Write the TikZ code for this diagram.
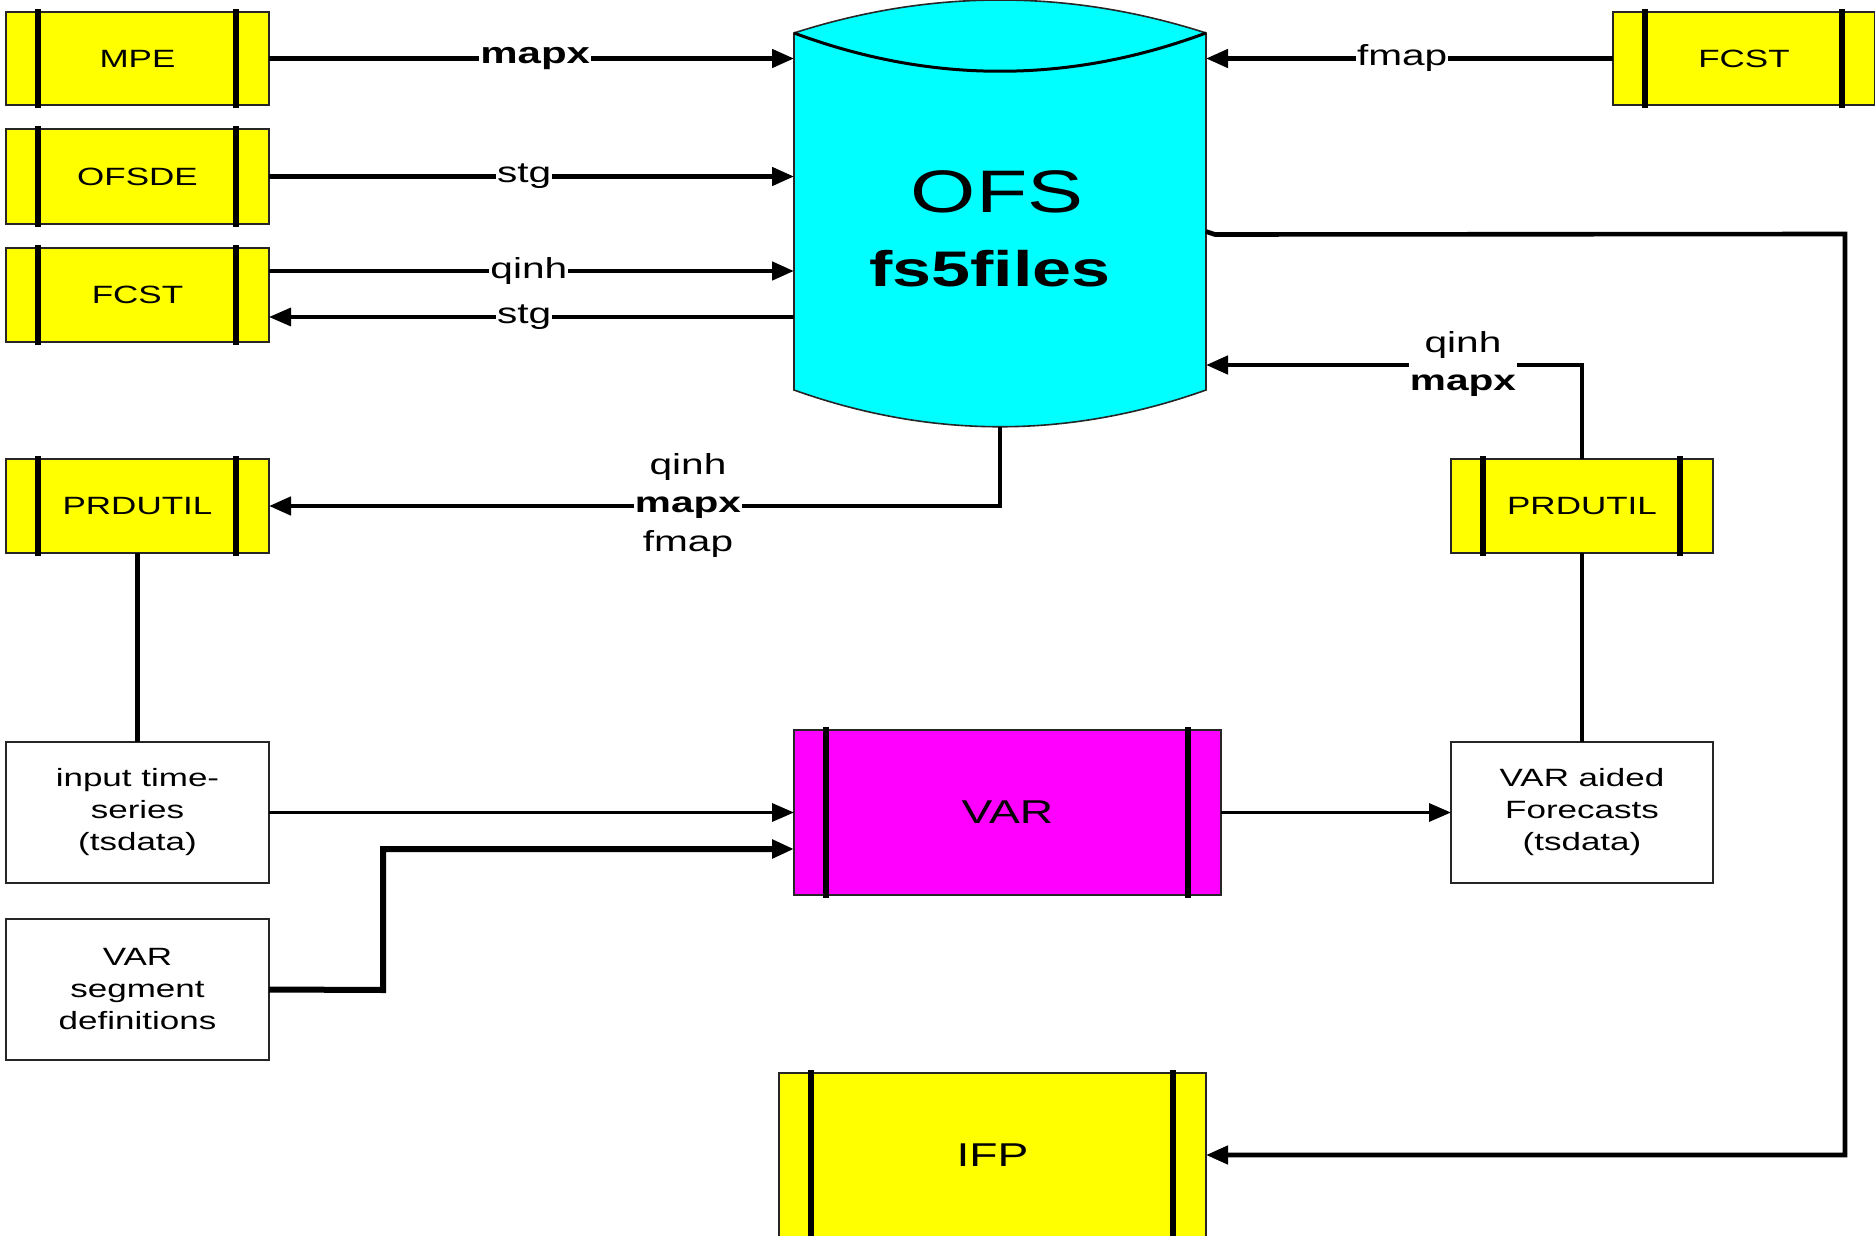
\documentclass[tikz,border=0pt]{standalone}
\usepackage{fontspec}
\setmainfont{Liberation Sans}[FakeStretch=1.4]
\usetikzlibrary{arrows.meta,calc}
\definecolor{procyel}{RGB}{255,255,0}
\definecolor{cylcyan}{RGB}{0,255,255}
\definecolor{varmag}{RGB}{255,0,255}
\tikzset{
  procbox/.style={draw=black!85, line width=1.5pt, fill=procyel, inner sep=0pt, outer sep=0pt, font=\fontsize{25}{32}\selectfont},
  databox/.style={draw=black!85, line width=1.8pt, fill=white, inner sep=0pt, outer sep=0pt, align=center, font=\fontsize{25}{32}\selectfont},
  barline/.style={line width=5.5pt},
  conn/.style={line width=4.6pt},
  thinconn/.style={line width=3.4pt},
  tip/.style={-{Triangle[length=22pt,width=18pt]}},
  lbl/.style={fill=white, inner sep=1pt, font=\fontsize{29}{37}\selectfont},
  blbl/.style={fill=white, inner sep=1pt, font=\fontsize{30}{37}\selectfont\bfseries},
}
\newcommand{\procbars}[1]{%
  \draw[barline] ([xshift=32pt,yshift=3pt]#1.north west) -- ([xshift=32pt,yshift=-3pt]#1.south west);
  \draw[barline] ([xshift=-33pt,yshift=3pt]#1.north east) -- ([xshift=-33pt,yshift=-3pt]#1.south east);}
\begin{document}
\begin{tikzpicture}[x=1pt,y=-1pt]
\useasboundingbox (0,0) rectangle (1875,1236);
\fill[white] (0,0) rectangle (1875,1236);

% cylinder
\fill[cylcyan] (794,33) .. controls (931,-11) and (1069,-11) .. (1206,33) -- (1206,390) .. controls (1069,439) and (931,439) .. (794,390) -- cycle;
\draw[line width=1.6pt, black!85] (794,33) .. controls (931,-11) and (1069,-11) .. (1206,33) -- (1206,390) .. controls (1069,439) and (931,439) .. (794,390) -- cycle;
\draw[line width=3pt] (794,33) .. controls (931,84) and (1069,84) .. (1206,33);
\node[minimum width=412pt, minimum height=357pt, inner sep=0pt, outer sep=0pt] (ofs) at (1000,211.5) {};
\node[anchor=base, inner sep=0pt, font=\fontsize{60}{60}\selectfont] (ofsA) at (997,212) {OFS};
\node[anchor=base, inner sep=0pt, font=\fontsize{50}{50}\selectfont\bfseries] (ofsB) at (990,286) {fs5files};

% process boxes
\node[procbox, minimum width=263pt, minimum height=93pt] (MPE) at (137.5,58.5) {MPE};
\node[procbox, minimum width=263pt, minimum height=95pt] (OFSDE) at (137.5,176.5) {OFSDE};
\node[procbox, minimum width=263pt, minimum height=94pt] (FCSTL) at (137.5,295) {FCST};
\node[procbox, minimum width=263pt, minimum height=94pt] (PRDL) at (137.5,506) {PRDUTIL};
\node[procbox, minimum width=262pt, minimum height=94pt] (PRDR) at (1582,506) {PRDUTIL};
\node[procbox, minimum width=262pt, minimum height=93pt] (FCSTR) at (1744,58.5) {FCST};
\node[procbox, fill=varmag, minimum width=427pt, minimum height=165pt, font=\fontsize{33}{33}\selectfont] (VAR) at (1007.5,812.5) {VAR};
\node[procbox, minimum width=427pt, minimum height=164pt, font=\fontsize{33}{33}\selectfont] (IFP) at (992.5,1155) {IFP};
\foreach \b in {MPE,OFSDE,FCSTL,PRDL,PRDR,FCSTR,VAR,IFP} {\procbars{\b}}

% data boxes
\node[databox, minimum width=263pt, minimum height=141pt] (input) at (137.5,812.5) {input time-\\series\\(tsdata)};
\node[databox, minimum width=263pt, minimum height=141pt] (seg) at (137.5,989.5) {VAR\\segment\\definitions};
\node[databox, minimum width=262pt, minimum height=141pt] (aided) at (1582,812.5) {VAR aided\\Forecasts\\(tsdata)};

% connectors to / from the cylinder
\draw[conn,tip] (MPE.east) -- node[blbl,pos=0.507] (lmapx) {mapx} (MPE.east -| ofs.west);
\draw[conn,tip] (OFSDE.east) -- node[lbl,pos=0.486] (lstg) {stg} (OFSDE.east -| ofs.west);
\draw[conn,tip] ([yshift=24pt]FCSTL.east) -- node[lbl,pos=0.495] (lqinh) {qinh} ([yshift=24pt]FCSTL.east -| ofs.west);
\draw[thinconn,tip] ([yshift=-22pt]FCSTL.east -| ofs.west) -- node[lbl,pos=0.514] (lstg2) {stg} ([yshift=-22pt]FCSTL.east);
\draw[conn,tip] (FCSTR.west) -- node[lbl,pos=0.518] (lfmap) {fmap} (FCSTR.west -| ofs.east);

% cylinder to IFP
\coordinate (ofsR1) at ([yshift=-20pt]ofs.east);
\coordinate (loopR) at (1845,234);
\draw[conn,tip] (ofsR1) -- ++(9,3) -- (loopR) -- (loopR |- IFP.east) -- (IFP.east);

% right PRDUTIL to cylinder
\coordinate (ofsR2) at ([yshift=-153.5pt]ofs.east);
\draw[conn,tip] (PRDR.north) |- (ofsR2);
\node[lbl, align=center] (lblR) at (1463,364) {qinh\\\textbf{mapx}};

% cylinder to left PRDUTIL
\coordinate (ofsB) at ([yshift=-37pt]ofs.south);
\draw[conn,tip] (ofsB) |- (PRDL.east);
\node[lbl, align=center, font=\fontsize{29}{38.5}\selectfont] (lblL) at (688,505) {qinh\\\textbf{mapx}\\fmap};

% lower connectors
\draw[conn] (PRDL.south) -- (input.north);
\draw[conn] (PRDR.south) -- (aided.north);
\draw[thinconn,tip] (input.east) -- (input.east -| VAR.west);
\coordinate (segX) at (383,990);
\draw[line width=6pt,tip] (seg.east) -- (segX) |- ([yshift=-36.5pt]VAR.west);
\draw[thinconn,tip] (VAR.east) -- (aided.west);
\end{tikzpicture}
\end{document}
